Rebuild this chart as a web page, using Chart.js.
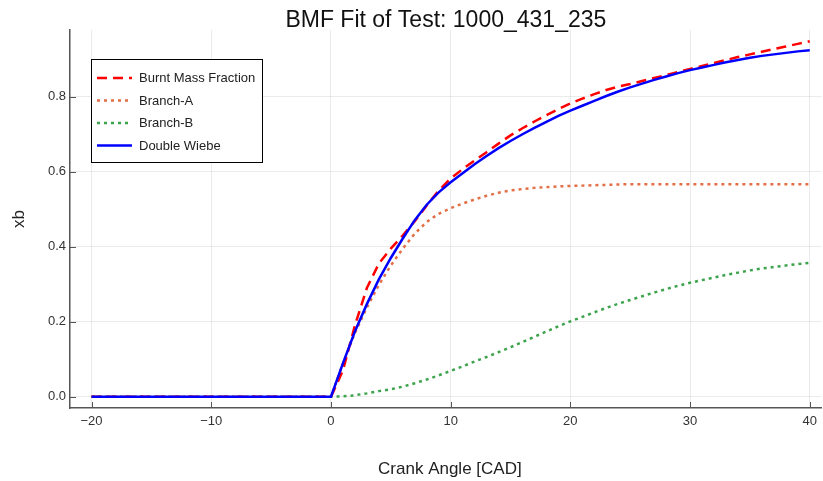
<!DOCTYPE html>
<html>
<head>
<meta charset="utf-8">
<script src="https://cdn.jsdelivr.net/npm/chart.js@4.4.1/dist/chart.umd.min.js"></script>
<style>
  html, body { margin: 0; padding: 0; background: #fff; }
  #out { display: block; }
</style>
</head>
<body>
<canvas id="out" width="823" height="481"></canvas>
<script>
const FONT = "'Liberation Sans', Arial, sans-serif";

// crank angle [CAD]
const angle = [-20, 0, 1, 2, 3, 4, 5, 6, 7, 8, 9, 10, 11, 12, 13, 14, 15, 16, 17, 18, 19, 20,
  21, 22, 23, 24, 25, 26, 27, 28, 29, 30, 31, 32, 33, 34, 35, 36, 37, 38, 39, 40];

const burntMass = [0, 0, 0.07, 0.19, 0.29, 0.355, 0.395, 0.43, 0.468, 0.51, 0.55, 0.582, 0.607, 0.63,
  0.652, 0.675, 0.697, 0.716, 0.734, 0.751, 0.767, 0.782, 0.795, 0.807, 0.818, 0.827, 0.834,
  0.842, 0.85, 0.858, 0.866, 0.874, 0.882, 0.89, 0.898, 0.906, 0.913, 0.92, 0.927, 0.934, 0.941, 0.948];

const branchA = [0, 0, 0.088, 0.17, 0.238, 0.298, 0.35, 0.395, 0.435, 0.466, 0.488, 0.503, 0.515, 0.526,
  0.536, 0.544, 0.55, 0.554, 0.557, 0.559, 0.561, 0.562, 0.563, 0.564, 0.565, 0.566, 0.567,
  0.567, 0.567, 0.567, 0.567, 0.567, 0.567, 0.567, 0.567, 0.567, 0.567, 0.567, 0.567, 0.567, 0.567, 0.567];

const branchB = [0, 0, 0.001, 0.004, 0.009, 0.015, 0.02, 0.027, 0.036, 0.046, 0.057, 0.069, 0.081, 0.094,
  0.106, 0.119, 0.132, 0.146, 0.16, 0.174, 0.188, 0.201, 0.213, 0.225, 0.237, 0.248, 0.258,
  0.268, 0.278, 0.287, 0.296, 0.304, 0.311, 0.318, 0.325, 0.331, 0.337, 0.342, 0.346, 0.35, 0.354, 0.357];

const doubleWiebe = [0, 0, 0.089, 0.174, 0.247, 0.313, 0.37, 0.422, 0.471, 0.512, 0.545, 0.572, 0.596, 0.62,
  0.642, 0.663, 0.682, 0.7, 0.717, 0.733, 0.749, 0.763, 0.776, 0.789, 0.802, 0.814, 0.825,
  0.835, 0.845, 0.854, 0.863, 0.871, 0.878, 0.885, 0.892, 0.898, 0.904, 0.909, 0.913, 0.917, 0.921, 0.924];

const xTicks = [-20, -10, 0, 10, 20, 30, 40];
const yTicks = [0, 0.2, 0.4, 0.6, 0.8];

const seriesNames = ["Burnt Mass Fraction", "Branch-A", "Branch-B", "Double Wiebe"];

function toPoints(ys) {
  return angle.map((a, i) => ({ x: a, y: ys[i] }));
}

const AXIS_COLOR = "#555";

// title, axis titles, legend box and inward ticks
const decorPlugin = {
  id: "decor",
  afterDraw(chart) {
    const ctx = chart.ctx;
    const area = chart.chartArea;
    const xs = chart.scales.x;
    const ys = chart.scales.y;
    ctx.save();

    // inward tick marks
    ctx.strokeStyle = AXIS_COLOR;
    ctx.lineWidth = 1;
    ctx.beginPath();
    for (const v of xTicks) {
      const px = Math.round(xs.getPixelForValue(v)) + 0.5;
      ctx.moveTo(px, area.bottom);
      ctx.lineTo(px, area.bottom - 6);
    }
    for (const v of yTicks) {
      const py = Math.round(ys.getPixelForValue(v)) + 0.5;
      ctx.moveTo(area.left, py);
      ctx.lineTo(area.left + 6, py);
    }
    ctx.stroke();

    // title
    ctx.fillStyle = "#111";
    ctx.textAlign = "center";
    ctx.textBaseline = "alphabetic";
    ctx.font = "23px " + FONT;
    ctx.fillText("BMF Fit of Test: 1000_431_235", (area.left + area.right) / 2, 27);

    // axis titles
    ctx.font = "17px " + FONT;
    ctx.fillStyle = "#222";
    ctx.fillText("Crank Angle [CAD]", (area.left + area.right) / 2 + 4, 474);
    ctx.save();
    ctx.translate(19, 219);
    ctx.rotate(-Math.PI / 2);
    ctx.textBaseline = "middle";
    ctx.fillText("xb", 0, 0);
    ctx.restore();

    // legend
    const lx = 91, ly = 59, lw = 171, lh = 103;
    ctx.fillStyle = "#fff";
    ctx.fillRect(lx, ly, lw, lh);
    ctx.strokeStyle = "#000";
    ctx.lineWidth = 1;
    ctx.strokeRect(lx + 0.5, ly + 0.5, lw, lh);
    ctx.font = "13px " + FONT;
    ctx.textAlign = "left";
    ctx.textBaseline = "middle";
    const rowY = [78, 100.5, 123, 145.5];
    chart.data.datasets.forEach((ds, i) => {
      const y = rowY[i];
      ctx.strokeStyle = ds.borderColor;
      ctx.lineWidth = ds.borderWidth;
      ctx.setLineDash(ds.borderDash || []);
      ctx.beginPath();
      ctx.moveTo(97, y);
      ctx.lineTo(132, y);
      ctx.stroke();
      ctx.setLineDash([]);
      ctx.fillStyle = "#222";
      ctx.fillText(seriesNames[i], 139, y + 0.5);
    });

    ctx.restore();
  }
};

const canvasCtx = document.getElementById("out").getContext("2d");

const chartConfig = {
  type: "line",
  data: {
    datasets: [
      {
        label: seriesNames[0],
        data: toPoints(burntMass),
        borderColor: "#ff0000",
        borderWidth: 2.5,
        borderDash: [10, 6],
        order: 1
      },
      {
        label: seriesNames[1],
        data: toPoints(branchA),
        borderColor: "#e26f46",
        borderWidth: 2.5,
        borderDash: [3, 4],
        order: 2
      },
      {
        label: seriesNames[2],
        data: toPoints(branchB),
        borderColor: "#3da44d",
        borderWidth: 2.5,
        borderDash: [3, 4],
        order: 3
      },
      {
        label: seriesNames[3],
        data: toPoints(doubleWiebe),
        borderColor: "#0000ff",
        borderWidth: 2.5,
        order: 0
      }
    ]
  },
  options: {
    responsive: false,
    animation: false,
    devicePixelRatio: 1,
    layout: { padding: { top: 30, right: 1, left: 0, bottom: 0 } },
    elements: {
      point: { radius: 0 },
      line: { tension: 0, fill: false, borderCapStyle: "butt" }
    },
    plugins: {
      legend: { display: false },
      title: { display: false },
      tooltip: { enabled: false }
    },
    scales: {
      x: {
        type: "linear",
        min: -21.8,
        max: 41.0,
        afterBuildTicks: (scale) => { scale.ticks = xTicks.map(v => ({ value: v })); },
        afterFit: (scale) => { scale.height = 73; },
        grid: { color: "rgba(0,0,0,0.08)", lineWidth: 1, drawTicks: false },
        border: { display: true, color: AXIS_COLOR, width: 1.5 },
        ticks: {
          padding: 6,
          color: "#333",
          font: { family: FONT, size: 13 },
          maxRotation: 0,
          callback: (v) => (v < 0 ? "\u2212" + Math.abs(v) : String(v))
        }
      },
      y: {
        type: "linear",
        min: -0.03,
        max: 0.978,
        afterBuildTicks: (scale) => { scale.ticks = yTicks.map(v => ({ value: v })); },
        afterFit: (scale) => { scale.width = 70; },
        grid: { color: "rgba(0,0,0,0.08)", lineWidth: 1, drawTicks: false },
        border: { display: true, color: AXIS_COLOR, width: 1.5 },
        ticks: {
          padding: 4,
          color: "#333",
          font: { family: FONT, size: 13 },
          callback: (v) => Number(v).toFixed(1)
        }
      }
    }
  },
  plugins: [decorPlugin]
};

window.chart = new Chart(canvasCtx, chartConfig);
</script>
</body>
</html>
